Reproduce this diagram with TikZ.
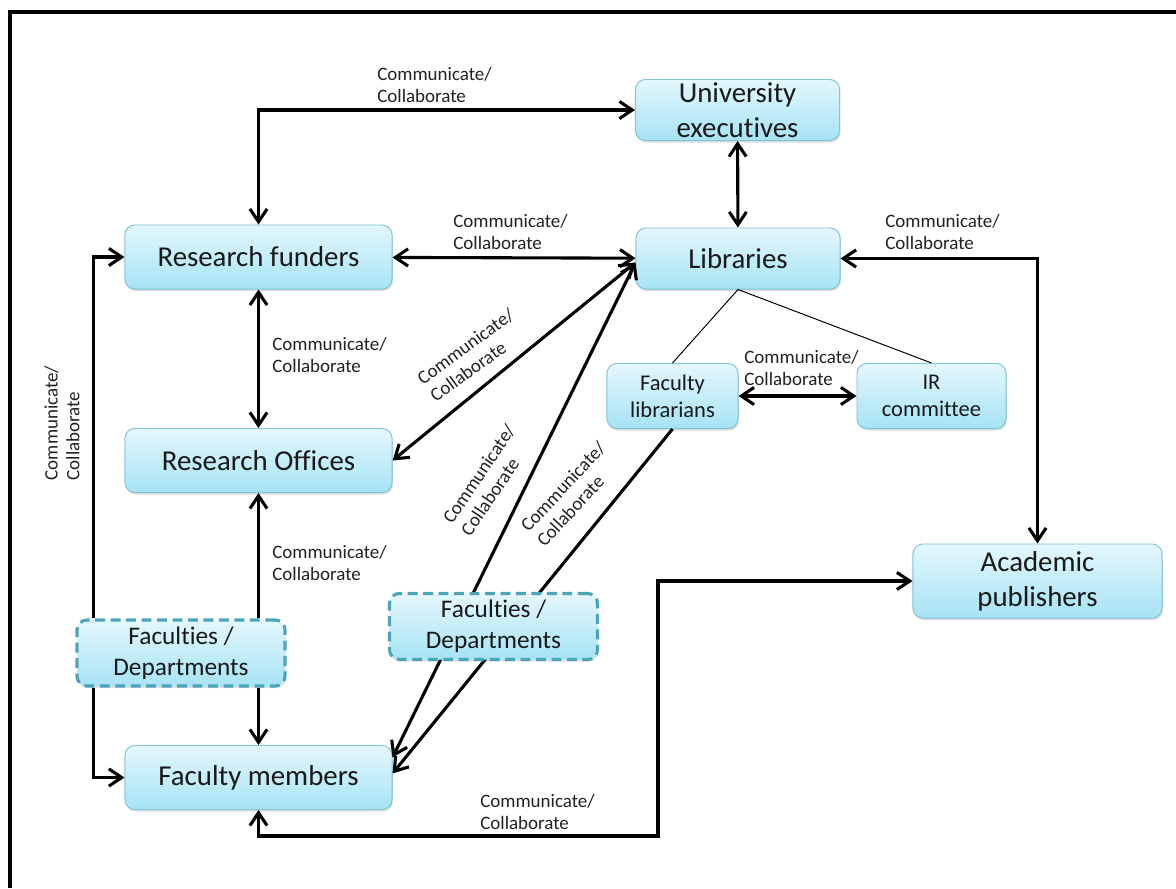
\documentclass[tikz,border=0pt]{standalone}
\usepackage{fontspec}
\setmainfont{Carlito}[RawFeature={-liga;-clig;-calt}]
\usetikzlibrary{arrows.meta, positioning, shadows}

\definecolor{boxtop}{HTML}{E4F7FC}
\definecolor{boxbot}{HTML}{A6E3F5}
\definecolor{boxline}{HTML}{80C4D6}
\definecolor{dashline}{HTML}{4BA4B7}
\definecolor{labtext}{HTML}{222222}

\begin{document}
\begin{tikzpicture}[x=0.025cm, y=-0.025cm,
        >={Straight Barb[length=3.2mm, width=4.3mm]},
        box/.style={draw=boxline, line width=0.7pt, rounded corners=7pt,
            top color=boxtop, bottom color=boxbot, align=center, inner sep=1pt,
            text=black!90,
            drop shadow={shadow xshift=0.6pt, shadow yshift=-1.5pt, opacity=0.25}},
        bigbox/.style={box, minimum width=6.675cm, minimum height=1.6cm,
            font=\fontsize{20.5}{25}\selectfont},
        midbox/.style={box, minimum width=5.1cm, minimum height=1.525cm,
            font=\fontsize{20.5}{25}\selectfont},
        smallbox/.style={box, minimum height=1.625cm,
            font=\fontsize{16}{19}\selectfont},
        fdbox/.style={box, draw=dashline, line width=2.2pt, dash pattern=on 7pt off 4pt,
            minimum width=5.2cm, minimum height=1.65cm,
            font=\fontsize{18}{22}\selectfont},
        link/.style={line width=2.2pt},
        thin/.style={line width=0.7pt},
        lab/.style={font=\fontsize{13.5}{15.6}\selectfont, align=left, inner sep=0pt,
            text=labtext}]

    \useasboundingbox (0,0) rectangle (1176,888);
    \draw[line width=3pt] (10,888) -- (10,12) -- (1176,12);

    \node[midbox]   (ue)    at (737.5,110)    {University\\executives};
    \node[bigbox]   (rf)    at (258.5,257)    {Research funders};
    \node[midbox]   (lib)   at (738,258.5)    {Libraries};
    \node[bigbox]   (ro)    at (258.5,460.5)  {Research Offices};
    \node[smallbox, minimum width=3.275cm] (fl) at (672.5,396) {Faculty\\librarians};
    \node[smallbox, minimum width=3.725cm] (ir) at (931.5,396) {IR\\committee};
    \node[box, minimum width=6.225cm, minimum height=1.85cm,
        font=\fontsize{20.5}{25}\selectfont] (ap) at (1037.5,581) {Academic\\publishers};
    \node[fdbox]    (fd_1)  at (181,653)      {Faculties /\\Departments};
    \node[bigbox]   (fm)    at (258.5,777.5)  {Faculty members};
    \coordinate (bend) at (658,836);

    % connectors
    \path[link,<->] (ue) edge (lib)
        (rf) edge (lib)
        (rf) edge (ro)
        (fl) edge (ir)
        ([yshift=-0.1cm]lib.west) edge (ro.east)
        ([yshift=-0.1cm]lib.west) edge ([yshift=0.5cm]fm.east);
    \draw[link,<->] (rf.north) |- (ue.west);
    \draw[link,<->] (lib.east) -| (ap.north);
    \draw[link,<->] (fm.south) |- (bend) |- (ap.west);
    \draw[link,->] (fl.south) -- ([yshift=0.1cm]fm.east);
    \draw[link,->] ([xshift=0.45cm]fd_1.north west) |- (rf.west);
    \draw[link,->] ([xshift=0.45cm]fd_1.south west) |- (fm.west);
    \draw[link,->] (fd_1.north -| ro.south) -- (ro.south);
    \draw[link,->] (fd_1.south -| fm.north) -- (fm.north);
    \draw[thin] (lib.south) -- (fl.north);
    \draw[thin] (lib.south) -- (ir.north);

    % the second faculty box sits over the two long lines
    \node[fdbox]    (fd_2)  at (493.5,626.5)  {Faculties /\\Departments};

    % labels
    \node[lab, anchor=west] (l_top)  at (377,85)   {Communicate/\\Collaborate};
    \node[lab, anchor=west] (l_rl)   at (453,232)  {Communicate/\\Collaborate};
    \node[lab, anchor=west] (l_la)   at (885,232)  {Communicate/\\Collaborate};
    \node[lab, anchor=west] (l_rr)   at (272,355)  {Communicate/\\Collaborate};
    \node[lab, anchor=west] (l_fr)   at (272,563)  {Communicate/\\Collaborate};
    \node[lab, anchor=west] (l_fi)   at (744,368)  {Communicate/\\Collaborate};
    \node[lab, anchor=west] (l_fa)   at (480,812)  {Communicate/\\Collaborate};
    \node[lab, rotate=90]   (l_side) at (62,423)   {Communicate/\\Collaborate};
    \node[lab, rotate=36]   (l_ro)   at (472,355)  {Communicate/\\Collaborate};
    \node[lab, rotate=56]   (l_d1)   at (488,480)  {Communicate/\\Collaborate};
    \node[lab, rotate=47]   (l_d2)   at (571,494)  {Communicate/\\Collaborate};
\end{tikzpicture}
\end{document}
